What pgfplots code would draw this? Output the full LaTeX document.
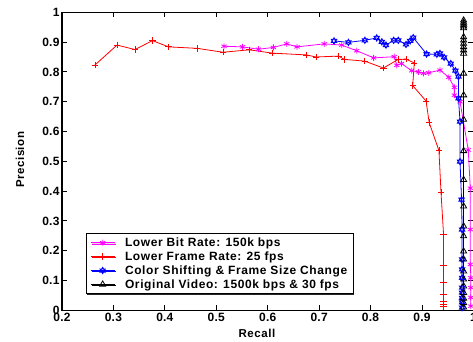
\documentclass[border=0pt]{standalone}
\usepackage{pgfplots}
\pgfplotsset{compat=1.18}
\usepackage{fontspec}
\setmainfont[LetterSpace=5]{Liberation Sans}
\newfontfamily\tickfont[LetterSpace=2]{Liberation Sans}
\usetikzlibrary{shadows}
\definecolor{mag}{RGB}{255,0,255}
\definecolor{rd}{RGB}{255,0,0}
\definecolor{bl}{RGB}{0,0,255}
\pgfdeclareplotmark{hexagram}{%
 \pgfpathmoveto{\pgfqpointpolar{90}{\pgfplotmarksize}}%
 \pgfpathlineto{\pgfqpointpolar{210}{\pgfplotmarksize}}%
 \pgfpathlineto{\pgfqpointpolar{330}{\pgfplotmarksize}}%
 \pgfpathclose
 \pgfpathmoveto{\pgfqpointpolar{270}{\pgfplotmarksize}}%
 \pgfpathlineto{\pgfqpointpolar{30}{\pgfplotmarksize}}%
 \pgfpathlineto{\pgfqpointpolar{150}{\pgfplotmarksize}}%
 \pgfpathclose
 \pgfusepathqstroke}
\begin{document}
\begin{tikzpicture}
\begin{axis}[
  scale only axis, width=411.4pt, height=298pt,
  xmin=0.2, xmax=1, ymin=0, ymax=1,
  xtick={0.2,0.3,...,1.0}, ytick={0,0.1,...,1.0},
  tick align=inside, major tick length=5pt,
  axis line style={line width=1.1pt},
  every tick/.style={black, line width=0.8pt},
  /pgf/number format/assume math mode=true,
  /pgf/number format/fixed,
  xticklabel style={font=\fontsize{12}{13}\tickfont\bfseries, yshift=1pt},
  yticklabel style={font=\fontsize{12}{13}\tickfont\bfseries, xshift=1pt},
  xlabel={Recall}, ylabel={Precision},
  every axis x label/.style={at={(axis description cs:0.474,-0.077)}, anchor=center, font=\fontsize{11.5}{12}\selectfont\bfseries},
  every axis y label/.style={at={(axis description cs:-0.102,0.505)}, anchor=center, rotate=90, font=\fontsize{11.5}{12}\selectfont\bfseries},
  legend cell align=left,
  legend style={at={(axis description cs:0.058,0.055)}, anchor=south west,
    font=\fontsize{12}{13}\selectfont\bfseries, draw=black, line width=0.8pt,
    row sep=-0.3pt, inner ysep=2pt, inner xsep=4pt,
    /tikz/every odd column/.append style={column sep=8pt},
    drop shadow={shadow xshift=1.2pt, shadow yshift=-1.2pt, fill=black!85, opacity=1}, fill=white},
  legend image code/.code={\draw[mark repeat=2,mark phase=2,#1] plot coordinates {(0pt,0pt) (12pt,0pt) (24pt,0pt)};},
  clip=false,
]
\addplot[mag, line width=0.8pt, mark=asterisk, mark size=3pt] coordinates {
(0.515,0.886)(0.551,0.884)(0.582,0.876)(0.611,0.882)(0.637,0.894)(0.657,0.884)
(0.710,0.894)(0.744,0.890)(0.773,0.871)(0.806,0.847)(0.846,0.851)(0.851,0.822)
(0.860,0.828)(0.880,0.804)(0.893,0.800)(0.903,0.795)(0.913,0.797)(0.935,0.806)
(0.952,0.782)(0.963,0.748)(0.963,0.722)(0.974,0.700)(0.990,0.538)(0.994,0.410)
(0.994,0.271)(0.994,0.154)(0.995,0.109)(0.995,0.076)(0.995,0.043)(0.995,0.014)
};
\addlegendentry{Lower Bit Rate: 150k bps}
\addplot[rd, line width=0.8pt, mark=+, mark size=3.2pt] coordinates {
(0.264,0.823)(0.307,0.890)(0.342,0.875)(0.376,0.905)(0.407,0.884)(0.463,0.879)
(0.513,0.866)(0.564,0.874)(0.609,0.863)(0.675,0.857)(0.694,0.850)(0.738,0.853)
(0.749,0.842)(0.789,0.836)(0.825,0.813)(0.854,0.842)(0.869,0.843)(0.885,0.830)
(0.882,0.754)(0.908,0.702)(0.914,0.630)(0.933,0.536)(0.937,0.396)(0.942,0.254)
(0.942,0.151)(0.942,0.093)(0.942,0.054)(0.942,0.031)(0.942,0.020)(0.942,0.012)
};
\addlegendentry{Lower Frame Rate: 25 fps}
\addplot[bl, line width=0.8pt, mark=hexagram, mark size=3.2pt] coordinates {
(0.729,0.904)(0.757,0.899)(0.789,0.906)(0.812,0.914)(0.822,0.901)(0.830,0.890)
(0.845,0.906)(0.854,0.906)(0.869,0.892)(0.877,0.904)(0.883,0.915)(0.909,0.860)
(0.929,0.859)(0.935,0.862)(0.943,0.849)(0.956,0.828)(0.965,0.804)(0.971,0.784)
(0.971,0.711)(0.974,0.633)(0.974,0.499)(0.977,0.371)(0.978,0.271)(0.978,0.171)
(0.978,0.137)(0.978,0.109)(0.978,0.076)(0.978,0.059)(0.978,0.042)(0.978,0.027)(0.978,0.009)
};
\addlegendentry{Color Shifting \& Frame Size Change}
\addplot[black, line width=0.8pt, mark=triangle, mark size=3.5pt] coordinates {
(0.981,0.973)(0.981,0.966)(0.981,0.959)(0.981,0.953)(0.981,0.947)(0.981,0.917)
(0.981,0.906)(0.981,0.895)(0.981,0.884)(0.981,0.873)(0.981,0.862)(0.981,0.795)
(0.981,0.722)(0.981,0.640)(0.981,0.535)(0.981,0.438)(0.981,0.349)(0.981,0.282)
(0.981,0.249)(0.981,0.198)(0.981,0.171)(0.981,0.131)(0.981,0.104)(0.981,0.081)
(0.981,0.059)(0.981,0.040)(0.981,0.025)(0.981,0.010)
};
\addlegendentry{Original Video: 1500k bps \& 30 fps}
\end{axis}
\pgfresetboundingbox
\path[use as bounding box] (-62pt,-31pt) rectangle (411pt,310.3pt);
\end{tikzpicture}
\end{document}
